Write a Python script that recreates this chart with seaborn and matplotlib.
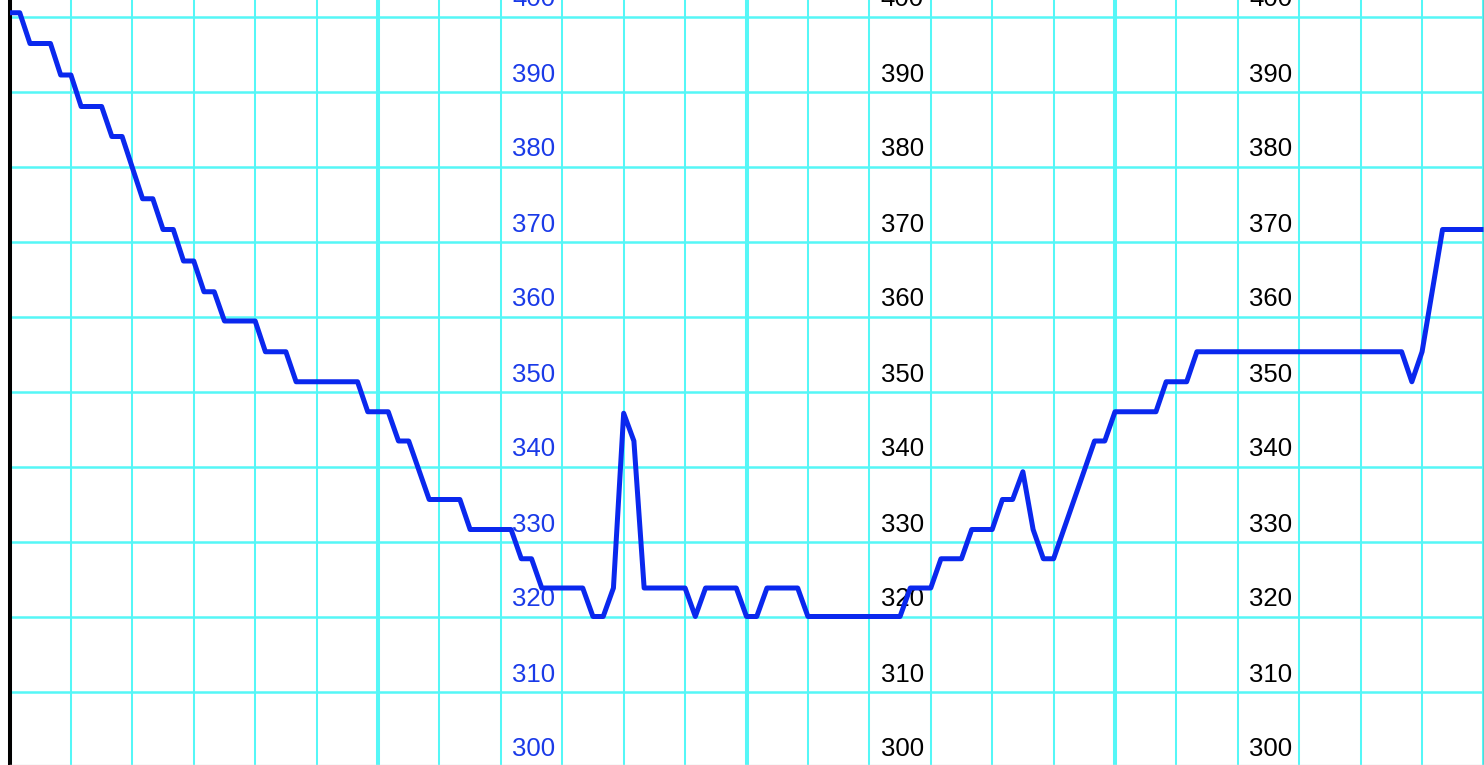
import seaborn as sns
import matplotlib.pyplot as plt
import matplotlib.transforms as mtransforms
from matplotlib.ticker import MultipleLocator
import pandas as pd

# readings every 10 minutes over one day (only the corners of the trace)
minutes = [0, 10, 20, 40, 50, 60, 70, 90, 100, 110, 130, 140, 150, 160, 170, 180,
           190, 200, 210, 240, 250, 270, 280, 340, 350, 370, 380, 390, 410, 440,
           450, 490, 500, 510, 520, 560, 570, 580, 590, 600, 610, 620, 660, 670,
           680, 710, 720, 730, 740, 770, 780, 870, 880, 900, 910, 930, 940, 960,
           970, 980, 990, 1000, 1010, 1020, 1060, 1070, 1080, 1120, 1130, 1150,
           1160, 1360, 1370, 1380, 1400, 1440]
values = [400.5, 400.5, 396.4, 396.4, 392.2, 392.2, 388.0, 388.0, 384.0, 384.0,
          375.7, 375.7, 371.6, 371.6, 367.4, 367.4, 363.3, 363.3, 359.4, 359.4,
          355.3, 355.3, 351.3, 351.3, 347.3, 347.3, 343.4, 343.4, 335.6, 335.6,
          331.6, 331.6, 327.7, 327.7, 323.8, 323.8, 320.0, 320.0, 323.8, 347.1,
          343.4, 323.8, 323.8, 320.0, 323.8, 323.8, 320.0, 320.0, 323.8, 323.8,
          320.0, 320.0, 323.8, 323.8, 327.7, 327.7, 331.6, 331.6, 335.6, 335.6,
          339.3, 331.6, 327.7, 327.7, 343.4, 343.4, 347.3, 347.3, 351.3, 351.3,
          355.3, 355.3, 351.3, 355.3, 371.6, 371.6]

# scale labels written inside the chart
label_values = [300, 310, 320, 330, 340, 350, 360, 370, 380, 390, 400]
label_hours = [9, 15, 21]
label_colors = ["#1a3ae8", "black", "black"]

df = pd.DataFrame({"hour": [m / 60 for m in minutes], "value": values})

sns.set_style("white")
plt.rcParams["font.family"] = ["Liberation Sans", "DejaVu Sans"]

fig = plt.figure(figsize=(14.84, 7.65), dpi=100)
ax = fig.add_axes([9.5 / 1484, 0, 1474 / 1484, 1])

grid_col = "#55f7f7"
ax.set_axisbelow(True)
ax.xaxis.set_major_locator(MultipleLocator(6))
ax.xaxis.set_minor_locator(MultipleLocator(1))
ax.yaxis.set_major_locator(MultipleLocator(10))
ax.xaxis.grid(True, which="major", color=grid_col, lw=2.9)
ax.xaxis.grid(True, which="minor", color=grid_col, lw=1.45)
ax.yaxis.grid(True, which="major", color=grid_col, lw=1.8)
ax.tick_params(which="both", length=0, labelleft=False, labelbottom=False)

sns.lineplot(data=df, x="hour", y="value", ax=ax, color="#0a28ee", lw=3.6,
             solid_joinstyle="round", solid_capstyle="butt", zorder=5)

ax.set_xlim(0, 24)
ax.set_ylim(300.2, 402.2)
ax.set_xlabel("")
ax.set_ylabel("")

trans = mtransforms.offset_copy(ax.transData, fig=fig, x=-7, y=10, units="dots")
for h, c in zip(label_hours, label_colors):
    for v in label_values:
        ax.text(h, v, str(v), transform=trans, ha="right", va="baseline",
                fontsize=18.5, color=c, zorder=3, clip_on=False)

ax.spines["top"].set_visible(False)
ax.spines["left"].set_color("black")
ax.spines["left"].set_linewidth(2.9)
ax.spines["right"].set_color("#555555")
ax.spines["right"].set_linewidth(1)
ax.spines["bottom"].set_color("#e0e0e0")
ax.spines["bottom"].set_linewidth(1)

fig.savefig("out.png", dpi=100)
plt.close(fig)
